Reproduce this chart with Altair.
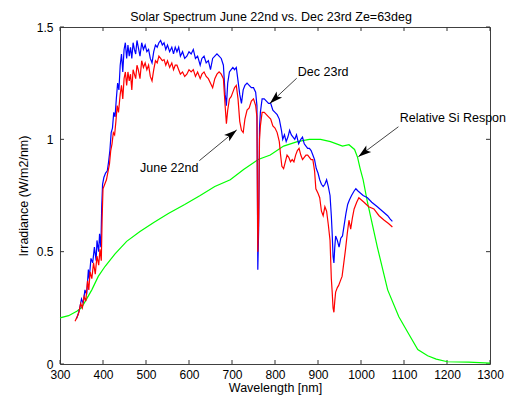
import altair as alt
import pandas as pd

# ---- data ----
blue_wl = [338, 342, 346, 350, 354, 358, 362, 366, 368, 372, 376, 380, 384, 386, 390, 392, 395, 397, 399,
           402, 406, 410, 413, 416, 419, 422, 425, 428, 431, 434, 437, 440, 443, 446, 449, 452, 455, 458,
           461, 464, 467, 470, 473, 476, 479, 482, 486, 490, 494, 498, 502, 506, 510, 514, 518, 522, 526,
           530, 534, 538, 542, 546, 550, 555, 560, 564, 568, 572, 576, 580, 585, 590, 595, 600, 605, 610,
           615, 620, 626, 630, 635, 640, 645, 650, 655, 660, 665, 670, 675, 680, 684, 687, 690, 694, 698,
           702, 706, 710, 714, 718, 722, 726, 730, 735, 740, 745, 750, 755, 758, 760, 762, 764, 766, 770,
           775, 780, 785, 790, 795, 800, 805, 810, 815, 818, 822, 826, 830, 834, 838, 842, 846, 850, 855,
           860, 864, 868, 872, 876, 880, 884, 888, 892, 896, 900, 904, 908, 912, 916, 920, 924, 928, 931,
           933, 935, 937, 939, 941, 945, 949, 953, 957, 961, 965, 969, 973, 978, 984, 988, 993, 999, 1005,
           1015, 1025, 1038, 1050, 1062, 1068, 1073]
blue_val = [0.20, 0.22, 0.25, 0.29, 0.27, 0.33, 0.31, 0.42, 0.38, 0.47, 0.45, 0.52, 0.46, 0.55, 0.50, 0.58,
            0.52, 0.70, 0.80, 0.83, 0.85, 0.86, 0.90, 0.95, 1.03, 1.05, 1.12, 1.10, 1.18, 1.25, 1.22, 1.33,
            1.38, 1.30, 1.40, 1.43, 1.36, 1.42, 1.37, 1.41, 1.36, 1.43, 1.40, 1.38, 1.44, 1.41, 1.37, 1.43,
            1.40, 1.42, 1.39, 1.40, 1.36, 1.34, 1.39, 1.42, 1.41, 1.43, 1.44, 1.42, 1.43, 1.40, 1.42, 1.39,
            1.41, 1.38, 1.41, 1.39, 1.41, 1.37, 1.39, 1.36, 1.37, 1.39, 1.38, 1.40, 1.36, 1.37, 1.33, 1.36,
            1.37, 1.34, 1.35, 1.31, 1.36, 1.37, 1.38, 1.37, 1.36, 1.33, 1.20, 1.15, 1.25, 1.30, 1.31, 1.32,
            1.31, 1.32, 1.26, 1.20, 1.16, 1.22, 1.24, 1.25, 1.24, 1.23, 1.23, 1.21, 1.15, 0.42, 0.60, 1.05,
            1.12, 1.18, 1.18, 1.17, 1.16, 1.16, 1.13, 1.12, 1.11, 1.09, 1.04, 1.00, 1.02, 0.99, 1.01, 1.04,
            1.02, 1.01, 1.00, 1.02, 0.98, 1.00, 1.01, 0.98, 0.97, 0.96, 0.96, 0.95, 0.93, 0.91, 0.87, 0.85,
            0.82, 0.80, 0.79, 0.80, 0.82, 0.79, 0.75, 0.66, 0.58, 0.48, 0.45, 0.52, 0.57, 0.55, 0.52, 0.56,
            0.57, 0.62, 0.67, 0.71, 0.73, 0.75, 0.77, 0.78, 0.77, 0.76, 0.75, 0.74, 0.72, 0.70, 0.68, 0.66,
            0.645, 0.635]

red_wl = [335, 340, 344, 348, 352, 356, 360, 364, 367, 370, 374, 378, 382, 386, 390, 393, 396, 398, 400,
          404, 408, 412, 415, 418, 421, 424, 427, 430, 433, 436, 440, 443, 446, 449, 452, 455, 458, 461,
          464, 467, 470, 473, 476, 479, 482, 486, 490, 494, 498, 502, 506, 510, 514, 518, 522, 526, 530,
          534, 538, 542, 546, 550, 555, 560, 564, 568, 572, 576, 580, 585, 590, 595, 600, 605, 610, 615,
          620, 626, 630, 635, 640, 645, 650, 655, 660, 665, 670, 675, 680, 684, 687, 690, 694, 698, 702,
          706, 710, 714, 718, 722, 726, 730, 735, 740, 745, 750, 755, 758, 760, 762, 764, 766, 770, 775,
          780, 785, 790, 795, 800, 805, 810, 813, 816, 820, 824, 828, 832, 836, 840, 844, 848, 852, 856,
          860, 864, 868, 872, 876, 880, 884, 888, 892, 895, 900, 904, 908, 912, 916, 920, 924, 928, 931,
          933, 935, 937, 939, 941, 945, 948, 952, 956, 960, 964, 968, 972, 976, 980, 984, 990, 995, 1001,
          1007, 1018, 1030, 1042, 1054, 1064, 1073]
red_val = [0.19, 0.21, 0.23, 0.27, 0.25, 0.30, 0.28, 0.37, 0.33, 0.41, 0.38, 0.45, 0.40, 0.48, 0.44, 0.51,
           0.46, 0.65, 0.78, 0.80, 0.82, 0.86, 0.89, 0.95, 0.98, 1.03, 1.02, 1.08, 1.15, 1.12, 1.20, 1.24,
           1.18, 1.27, 1.30, 1.24, 1.30, 1.26, 1.29, 1.22, 1.31, 1.29, 1.27, 1.33, 1.31, 1.27, 1.35, 1.32,
           1.34, 1.31, 1.33, 1.28, 1.26, 1.31, 1.35, 1.34, 1.37, 1.36, 1.35, 1.355, 1.33, 1.35, 1.32, 1.34,
           1.31, 1.33, 1.33, 1.31, 1.29, 1.30, 1.28, 1.29, 1.31, 1.30, 1.31, 1.28, 1.30, 1.27, 1.29, 1.30,
           1.28, 1.27, 1.25, 1.23, 1.27, 1.29, 1.30, 1.29, 1.27, 1.15, 1.07, 1.13, 1.18, 1.19, 1.21, 1.23,
           1.24, 1.18, 1.08, 1.04, 1.03, 1.09, 1.13, 1.14, 1.17, 1.18, 1.15, 1.10, 0.50, 0.65, 1.00, 1.06,
           1.12, 1.12, 1.11, 1.10, 1.09, 1.06, 1.05, 1.03, 0.99, 0.93, 0.88, 0.87, 0.90, 0.93, 0.92, 0.90,
           0.91, 0.90, 0.93, 0.95, 0.96, 0.93, 0.91, 0.92, 0.93, 0.93, 0.92, 0.91, 0.91, 0.86, 0.78, 0.76,
           0.74, 0.68, 0.66, 0.70, 0.68, 0.62, 0.55, 0.38, 0.32, 0.25, 0.23, 0.28, 0.32, 0.34, 0.35, 0.37,
           0.39, 0.45, 0.51, 0.58, 0.64, 0.60, 0.65, 0.69, 0.72, 0.74, 0.73, 0.72, 0.70, 0.69, 0.66, 0.64,
           0.625, 0.61]

green_wl = [300, 320, 339, 350, 362, 374, 389, 405, 428, 455, 486, 518, 552, 590, 626, 660, 696, 727, 761,
            789, 820, 852, 880, 906, 929, 957, 972, 985, 992, 998, 1005, 1015, 1038, 1062, 1088, 1109,
            1132, 1155, 1175, 1201, 1250, 1300]
green_val = [0.205, 0.215, 0.235, 0.25, 0.29, 0.33, 0.39, 0.435, 0.49, 0.546, 0.59, 0.63, 0.67, 0.71, 0.75,
             0.79, 0.82, 0.866, 0.91, 0.93, 0.97, 0.99, 1.0, 1.0, 0.99, 0.97, 0.976, 0.955, 0.92, 0.87,
             0.82, 0.72, 0.52, 0.33, 0.21, 0.14, 0.064, 0.037, 0.022, 0.010, 0.008, 0.004]

x_ticks = [300, 400, 500, 600, 700, 800, 900, 1000, 1100, 1200, 1300]
y_ticks = [0, 0.5, 1, 1.5]

note_text = ["Dec 23rd", "June 22nd", "Relative Si Respon"]
note_x = [853, 486, 1090]
note_y = [1.30, 0.873, 1.093]
arrow_x0 = [850.5, 624, 1087]
arrow_y0 = [1.272, 0.905, 1.056]
arrow_x1 = [788, 711, 994]
arrow_y1 = [1.160, 1.042, 0.923]
arrow_angle = [227, 50.6, 232.6]

# ---- layout / style ----
W, H = 430, 337
FONT = "Liberation Sans"

xs = alt.Scale(domain=[300, 1300], nice=False, zero=False)
ys = alt.Scale(domain=[0, 1.5], nice=False, zero=False)
xaxis = alt.Axis(values=x_ticks, format="d", title="Wavelength [nm]", labelFlush=False,
                 labelOverlap=False, labelPadding=5, titlePadding=1)
yaxis = alt.Axis(values=y_ticks, format="~g", title="Irradiance (W/m2/nm)", labelPadding=7,
                 titlePadding=6, labelOverlap=False)


def X(f="x"):
    return alt.X(f, type="quantitative", scale=xs, axis=xaxis)


def Y(f="y"):
    return alt.Y(f, type="quantitative", scale=ys, axis=yaxis)


df_blue = pd.DataFrame({"x": blue_wl, "y": blue_val})
df_red = pd.DataFrame({"x": red_wl, "y": red_val})
df_green = pd.DataFrame({"x": green_wl, "y": green_val})
df_xt = pd.DataFrame({"x": x_ticks})
df_yt = pd.DataFrame({"y": y_ticks})
df_note = pd.DataFrame({"x": note_x, "y": note_y, "t": note_text})
df_arrow = pd.DataFrame({"x": arrow_x0, "y": arrow_y0, "x2": arrow_x1, "y2": arrow_y1})
df_head = pd.DataFrame({"x": arrow_x1, "y": arrow_y1, "a": arrow_angle})

tick_color = "#333333"
tick_b = alt.Chart(df_xt).mark_rule(color=tick_color, strokeWidth=1).encode(
    x=X(), y=alt.value(H), y2=alt.value(H - 4))
tick_t = alt.Chart(df_xt).mark_rule(color=tick_color, strokeWidth=1).encode(
    x=X(), y=alt.value(0), y2=alt.value(4))
tick_l = alt.Chart(df_yt).mark_rule(color=tick_color, strokeWidth=1).encode(
    y=Y(), x=alt.value(0), x2=alt.value(4))
tick_r = alt.Chart(df_yt).mark_rule(color=tick_color, strokeWidth=1).encode(
    y=Y(), x=alt.value(W), x2=alt.value(W - 4))

green = alt.Chart(df_green).mark_line(color="#00ff00", strokeWidth=1.2).encode(x=X(), y=Y())
blue = alt.Chart(df_blue).mark_line(color="#0000ff", strokeWidth=1.2).encode(x=X(), y=Y())
red = alt.Chart(df_red).mark_line(color="#ff0000", strokeWidth=1.2).encode(x=X(), y=Y())

arrows = alt.Chart(df_arrow).mark_rule(color="#444444", strokeWidth=1).encode(
    x=X(), y=Y(), x2="x2", y2="y2")
heads = alt.Chart(df_head).mark_point(
    shape="M0,0 L2,6.5 L0,5 L-2,6.5 Z", filled=True, size=16, color="black", opacity=1,
    strokeWidth=0).encode(x=X(), y=Y(), angle=alt.Angle("a:Q", scale=None))
notes = alt.Chart(df_note).mark_text(align="left", baseline="middle", font=FONT, fontSize=12.5,
                                     color="black").encode(x=X(), y=Y(), text="t:N")

chart = alt.layer(tick_b, tick_t, tick_l, tick_r, green, blue, red, arrows, heads, notes).properties(
    width=W, height=H,
    autosize=alt.AutoSizeParams(type="none"),
    padding={"left": 60, "top": 27, "right": 21, "bottom": 36},
    title=alt.TitleParams("Solar Spectrum June 22nd vs. Dec 23rd Ze=63deg", font=FONT, fontSize=12.5,
                          fontWeight="normal", color="black", offset=6, dx=-4, dy=8),
    background="white",
).configure_view(stroke="#404040", strokeWidth=1).configure_axis(
    domain=False, ticks=False, grid=False, labelFont=FONT, labelFontSize=12, labelColor="black",
    titleFont=FONT, titleFontSize=12.5, titleFontWeight="normal", titleColor="black")

chart.save("out.html", embed_options={"renderer": "svg", "actions": False})
